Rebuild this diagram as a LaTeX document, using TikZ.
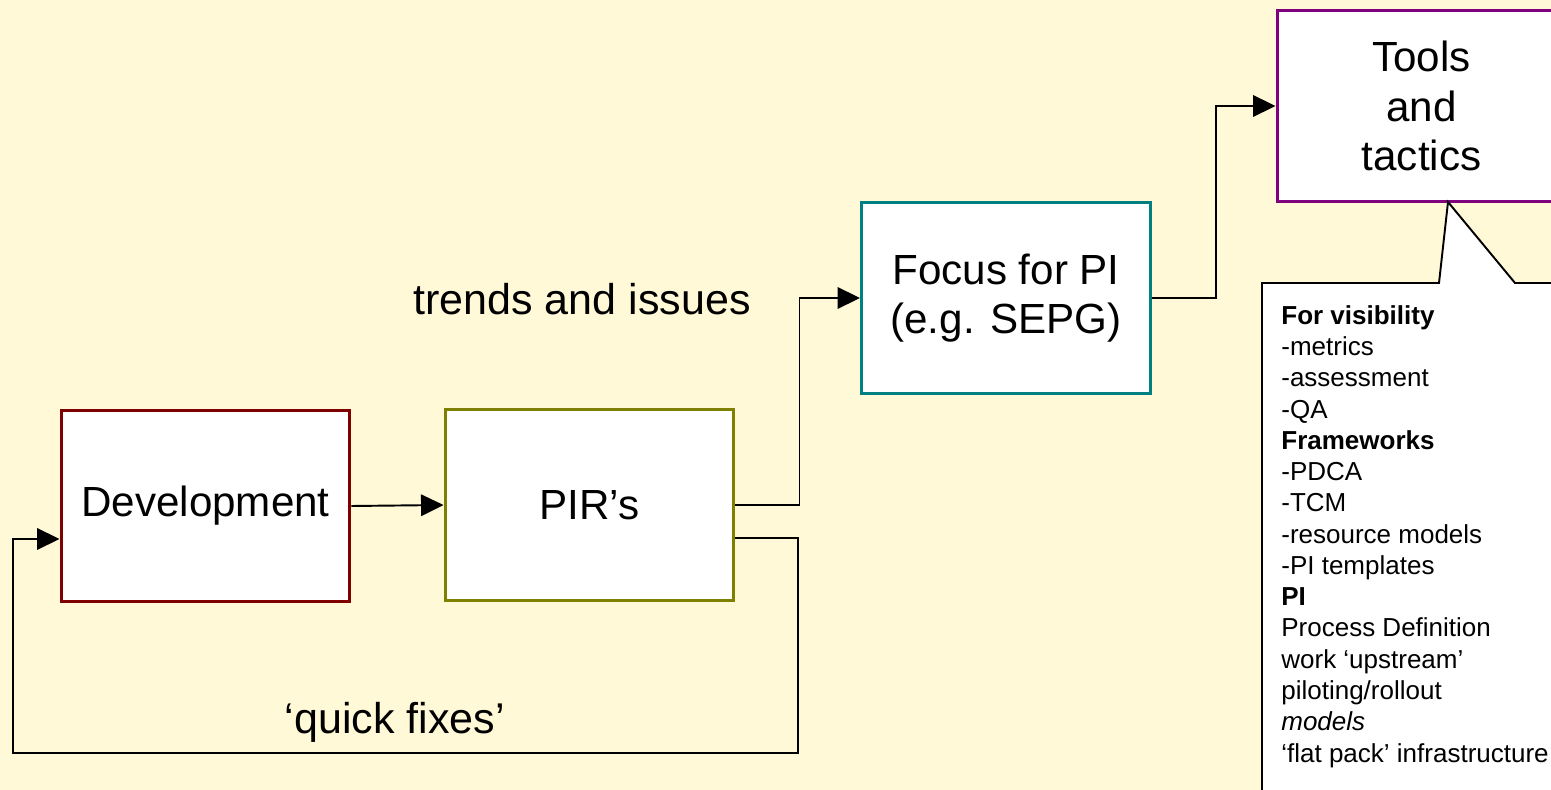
\documentclass[tikz,border=0pt]{standalone}
\usepackage{fontspec}
\setmainfont{Liberation Sans}
\usepackage{tikz}
\usetikzlibrary{arrows.meta,calc}

\definecolor{slidebg}{RGB}{255,249,215}
\definecolor{devred}{RGB}{128,0,0}
\definecolor{pirolive}{RGB}{128,128,0}
\definecolor{sepgteal}{RGB}{0,128,128}
\definecolor{toolpurple}{RGB}{128,0,128}

\tikzset{
	stage/.style={draw, line width=1.7pt, fill=white, minimum width=5.78cm, minimum height=3.84cm,
		inner sep=0pt, align=center, font=\fontsize{24}{28}\selectfont},
	conn/.style={line width=1.1pt, -{Triangle[length=0.45cm,width=0.43cm]}},
	flowlabel/.style={anchor=base, inner sep=0pt, font=\fontsize{24.5}{28}\selectfont},
	tiptext/.style={anchor=north west, inner sep=0pt, align=left, font=\fontsize{14.8}{17.8}\selectfont},
}

\begin{document}
\begin{tikzpicture}[x=0.02cm,y=-0.02cm]
		\def\jog{64}
		\fill[slidebg] (0,0) rectangle (1551,790);
		\useasboundingbox (0,0) rectangle (1551,790);
		\clip (0,0) rectangle (1551,790);
		% boxes
		\node[stage, draw=devred] (dev) at (205.5,506) {Development};
		\node[stage, draw=pirolive] (pir) at (589.5,505) {PIR’s};
		\node[stage, draw=sepgteal] (sepg) at (1006,298) {Focus for PI\\(e.g. SEPG)};
		\node[stage, draw=toolpurple] (tools) at (1421.5,106) {Tools\\and\\tactics};
		% callout under the tools box
		\draw[line width=1.1pt, fill=white] (1262,283) -- (1439,283) -- (1448,202) -- (1515,283)
			-- (1560,283) -- (1560,800) -- (1262,800) -- cycle;
		\node[tiptext] (tips) at (1281,305) {\textbf{For visibility}\\
			-metrics\\
			-assessment\\
			-QA\\
			\textbf{Frameworks}\\
			-PDCA\\
			-TCM\\
			-resource models\\
			-PI templates\\
			\textbf{PI}\\
			Process Definition\\
			work ‘upstream’\\
			piloting/rollout\\
			\textit{models}\\
			‘flat pack’ infrastructure};
		% flow
		\draw[conn] (dev.east) -- (pir.west);
		\draw[conn] (pir.east) -- ++(\jog,0) |- (sepg.west);
		\draw[conn] (sepg.east) -- ++(\jog,0) |- (tools.west);
		\node[flowlabel, anchor=base east] (trends) at (751,315) {trends and issues};
		% feedback loop
		\coordinate (fixR) at (798,753);
		\coordinate (fixL) at (13,753);
		\draw[conn] ([yshift=-0.66cm]pir.east) -| (fixR) -- (fixL) |- ([yshift=-0.66cm]dev.west);
		\node[flowlabel] (fixes) at (395,733) {‘quick fixes’};
	\end{tikzpicture}
\end{document}
